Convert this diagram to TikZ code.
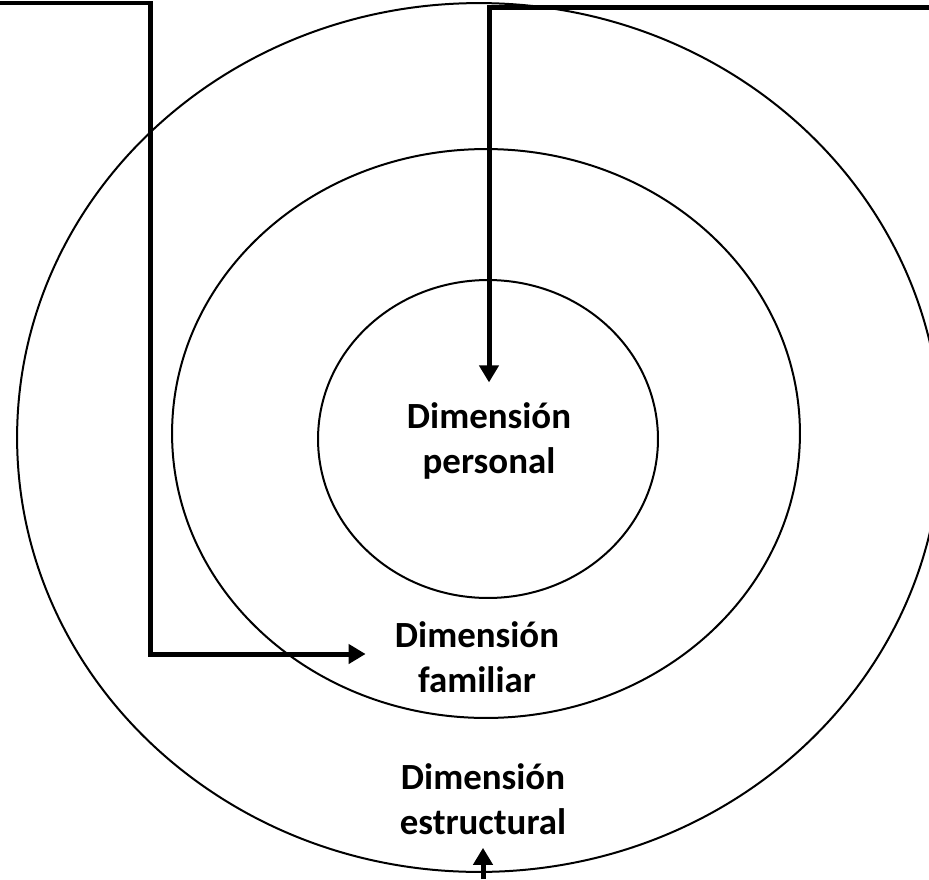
\documentclass[tikz,border=0pt]{standalone}
\usepackage{fontspec}
\setmainfont{Carlito}
\usetikzlibrary{arrows.meta}

\begin{document}
\begin{tikzpicture}[x=0.02cm, y=-0.02cm,
    ring/.style={line width=0.04cm, black},
    link/.style={line width=0.1cm, black, -{Triangle[length=0.34cm, width=0.38cm]}},
    dimlabel/.style={align=center, inner sep=0pt, font=\bfseries\fontsize{21}{25.5}\selectfont}]
    \useasboundingbox (0,0) rectangle (929,879);
    \clip (0,0) rectangle (929,879);

    % RINGS (outer, middle, inner)
    \draw[ring] (479,437.5) ellipse (9.24cm and 8.69cm);
    \draw[ring] (486,433.5) ellipse (6.28cm and 5.69cm);
    \draw[ring] (488,439) ellipse (3.40cm and 3.18cm);

    % LABELS
    \node[dimlabel] (personal) at (489,441) {Dimensión\\personal};
    \node[dimlabel] (familiar) at (477,657) {Dimensión\\familiar};
    \node[dimlabel] (estructural) at (483,799) {Dimensión\\estructural};

    % CONNECTORS
    \coordinate (famStart) at (0,3);
    \coordinate (famBend) at (150.5,654);
    \draw[link] (famStart) -| (famBend) -- (famBend -| familiar.west)
        [shorten >=0.58cm];

    \coordinate (persStart) at (929,7.5);
    \draw[link, shorten >=0.4cm] (persStart) -| (personal.north);

    \coordinate (estrStart) at (485,879);
    \draw[link, shorten >=0.26cm] (estructural.south |- estrStart) -- (estructural.south);
\end{tikzpicture}
\end{document}
